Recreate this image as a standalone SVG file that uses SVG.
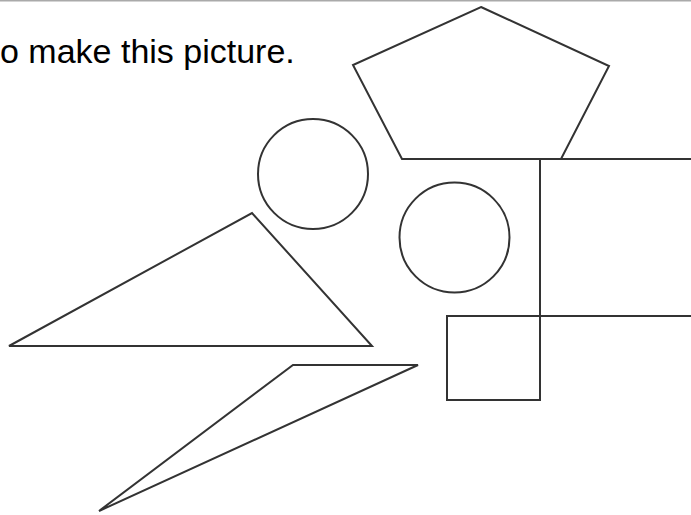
<svg xmlns="http://www.w3.org/2000/svg" width="691" height="515" viewBox="0 0 691 515">
<style>
.s{fill:none;stroke:#333;stroke-width:2}
.t{font-family:"Liberation Sans",Arial,sans-serif;font-size:34px;fill:#000}
</style>
<rect width="691" height="515" fill="#fff"/>
<line x1="0" y1="0.5" x2="691" y2="0.5" stroke="#aaa" stroke-width="2"/>
<text class="t" x="0" y="63">o make this picture.</text>
<g id="pentagon"><polygon class="s" points="481,7 609,66 561,159 402,159 353,65"/></g>
<g id="rect"><rect class="s" x="540" y="159" width="160" height="157"/></g>
<g id="square"><rect class="s" x="447" y="316" width="93" height="84"/></g>
<g id="circle1"><circle class="s" cx="313" cy="174" r="55"/></g>
<g id="circle2"><circle class="s" cx="454.5" cy="237.5" r="55"/></g>
<g id="triangle1"><polygon class="s" points="9,346 252,213 372,346"/></g>
<g id="triangle2"><polygon class="s" points="99,511 293,365 418,365"/></g>
</svg>
